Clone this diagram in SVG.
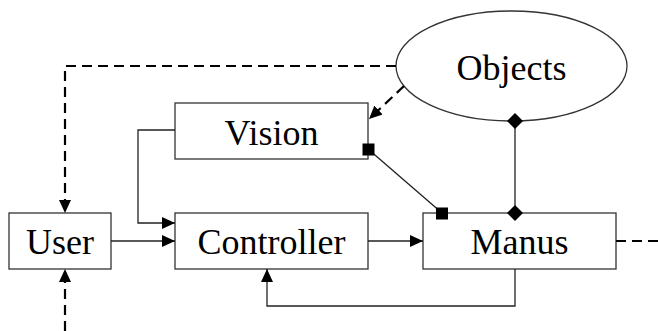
<svg xmlns="http://www.w3.org/2000/svg" width="658" height="331" viewBox="0 0 658 331">
<style>
.box{fill:#fff;stroke:#333;stroke-width:1.3}
.t{font-family:'Liberation Serif','Times New Roman',Times,serif;font-size:36px;fill:#000;text-anchor:middle}
.s{fill:none;stroke:#222;stroke-width:1.3}
.d{fill:none;stroke:#000;stroke-width:2.2;stroke-dasharray:10,6}
</style>
<defs>
<marker id="a" viewBox="0 0 13 12" refX="13" refY="6" markerWidth="13" markerHeight="12" markerUnits="userSpaceOnUse" orient="auto"><path d="M0,0L13,6L0,12z" fill="#000"/></marker>
</defs>
<g id="objects">
<ellipse cx="511.5" cy="66" rx="115.5" ry="55" class="box"/>
<text x="511.5" y="80" class="t">Objects</text>
</g>
<g id="vision">
<rect x="175" y="103" width="193" height="56" class="box"/>
<text x="271.5" y="145" class="t">Vision</text>
</g>
<g id="user">
<rect x="9" y="213" width="102" height="56" class="box"/>
<text x="60" y="254" class="t">User</text>
</g>
<g id="controller">
<rect x="175" y="213" width="193" height="56" class="box"/>
<text x="271.5" y="254" class="t">Controller</text>
</g>
<g id="manus">
<rect x="423" y="213" width="193" height="56" class="box"/>
<text x="519.5" y="254" class="t">Manus</text>
</g>
<g id="connectors">
<path class="d" d="M396,66H65V213" marker-end="url(#a)"/>
<path class="d" d="M65,331V269" marker-end="url(#a)"/>
<path class="d" d="M616,241H658"/>
<path class="d" d="M404,86L369,119" marker-end="url(#a)"/>
<path class="s" d="M175,130H138V223H175" marker-end="url(#a)"/>
<path class="s" d="M111,241H175" marker-end="url(#a)"/>
<path class="s" d="M368,241H423" marker-end="url(#a)"/>
<path class="s" d="M515,269V306H267V269" marker-end="url(#a)"/>
<path class="s" d="M368,149L442,213"/>
<path class="s" d="M515,121V213"/>
<rect x="362.5" y="143.5" width="12" height="12" fill="#000"/>
<rect x="436" y="207.5" width="12" height="12" fill="#000"/>
<path d="M515,113L523,121L515,129L507,121z" fill="#000"/>
<path d="M515,205L523,213L515,221L507,213z" fill="#000"/>
</g>
</svg>
